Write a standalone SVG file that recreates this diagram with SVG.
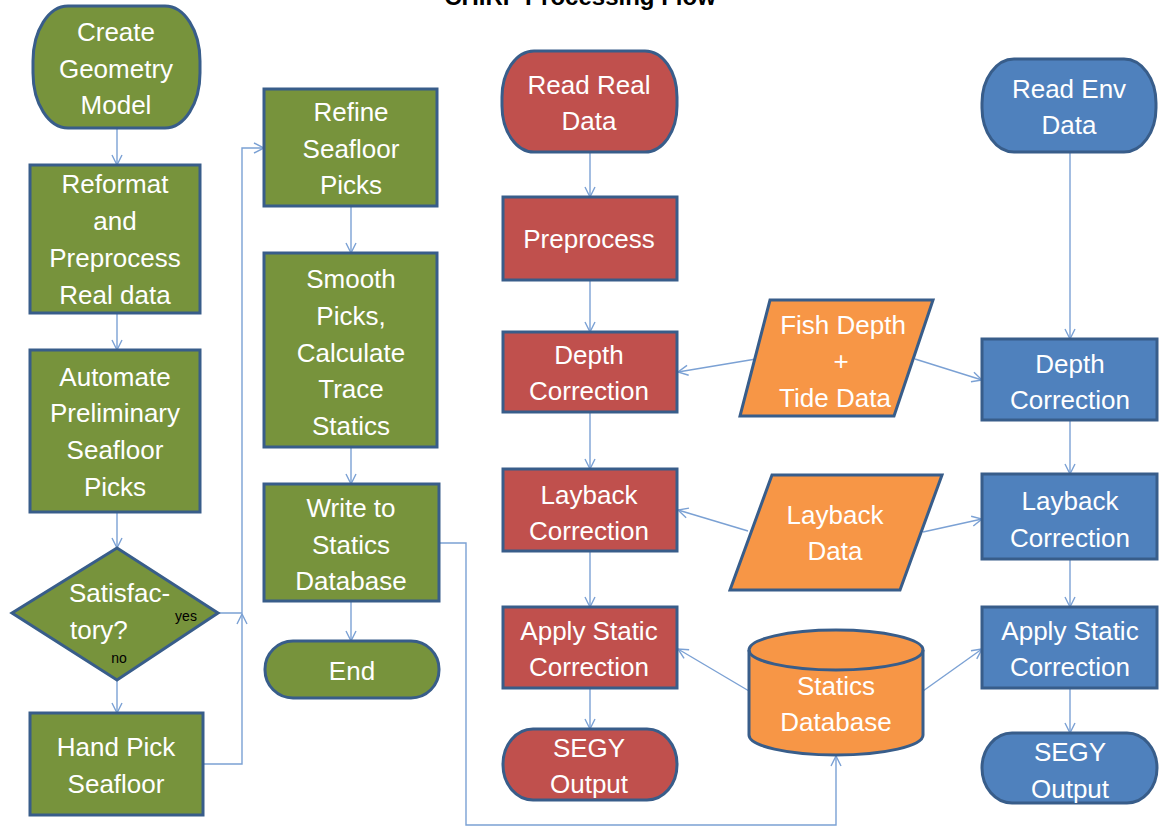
<svg xmlns="http://www.w3.org/2000/svg" width="1160" height="827" viewBox="0 0 1160 827">
<style>
.n{stroke:#385D8A;stroke-width:3}
.g{fill:#77933C}.r{fill:#C0504D}.b{fill:#4F81BD}.o{fill:#F79646}
.t{font-family:"Liberation Sans",Arial,sans-serif;font-size:26px;fill:#fff;text-anchor:middle}
.s{font-family:"Liberation Sans",Arial,sans-serif;font-size:14px;fill:#000;text-anchor:middle}
.c{fill:none;stroke:#7BA1D4;stroke-width:1.4}
</style>
<defs>
<marker id="a" viewBox="0 0 12 12" refX="11" refY="6" markerWidth="12" markerHeight="12" markerUnits="userSpaceOnUse" orient="auto">
<path d="M1,1 L11,6 L1,11" fill="none" stroke="#7BA1D4" stroke-width="1.4"/>
</marker>
</defs>
<rect width="1160" height="827" fill="#fff"/>
<text x="580" y="5" font-family="Liberation Sans,Arial,sans-serif" font-size="24" font-weight="bold" text-anchor="middle" fill="#000">CHIRP Processing Flow</text>

<g id="connectors">
<path class="c" d="M117,128 V165" marker-end="url(#a)"/>
<path class="c" d="M117,313 V350" marker-end="url(#a)"/>
<path class="c" d="M117,512 V548" marker-end="url(#a)"/>
<path class="c" d="M117,680 V713" marker-end="url(#a)"/>
<path class="c" d="M218,613 H242 V148 H264" marker-end="url(#a)"/>
<path class="c" d="M203,764 H242 V614" marker-end="url(#a)"/>
<path class="c" d="M351,206 V253" marker-end="url(#a)"/>
<path class="c" d="M351,447 V484" marker-end="url(#a)"/>
<path class="c" d="M351,601 V641" marker-end="url(#a)"/>
<path class="c" d="M439,543 H466 V825 H836 V756" marker-end="url(#a)"/>
<path class="c" d="M590,152 V197" marker-end="url(#a)"/>
<path class="c" d="M590,280 V332" marker-end="url(#a)"/>
<path class="c" d="M590,412 V469" marker-end="url(#a)"/>
<path class="c" d="M590,551 V607" marker-end="url(#a)"/>
<path class="c" d="M590,688 V729" marker-end="url(#a)"/>
<path class="c" d="M1070,152 V339" marker-end="url(#a)"/>
<path class="c" d="M1070,420 V474" marker-end="url(#a)"/>
<path class="c" d="M1070,559 V607" marker-end="url(#a)"/>
<path class="c" d="M1070,688 V733" marker-end="url(#a)"/>
<path class="c" d="M756,359 L678,372" marker-end="url(#a)"/>
<path class="c" d="M915,359 L982,380" marker-end="url(#a)"/>
<path class="c" d="M748,531 L678,510" marker-end="url(#a)"/>
<path class="c" d="M923,532 L982,519" marker-end="url(#a)"/>
<path class="c" d="M749,691 L678,649" marker-end="url(#a)"/>
<path class="c" d="M923,691 L982,649" marker-end="url(#a)"/>
</g>

<g id="create"><rect class="n g" x="33" y="6" width="167" height="122" rx="35" ry="55"/>
<text class="t" x="116" y="41">Create</text><text class="t" x="116" y="78">Geometry</text><text class="t" x="116" y="114">Model</text></g>
<g id="reformat"><rect class="n g" x="30" y="165" width="170" height="148"/>
<text class="t" x="115" y="193">Reformat</text><text class="t" x="115" y="230">and</text><text class="t" x="115" y="267">Preprocess</text><text class="t" x="115" y="304">Real data</text></g>
<g id="automate"><rect class="n g" x="30" y="350" width="170" height="162"/>
<text class="t" x="115" y="386">Automate</text><text class="t" x="115" y="422">Preliminary</text><text class="t" x="115" y="459">Seafloor</text><text class="t" x="115" y="496">Picks</text></g>
<g id="satisfactory"><polygon class="n g" points="117,548 218,613 117,680 12,613"/>
<text class="t" x="69" y="602" style="text-anchor:start">Satisfac-</text><text class="t" x="70" y="639" style="text-anchor:start">tory?</text>
<text class="s" x="186" y="621">yes</text><text class="s" x="119" y="663">no</text></g>
<g id="handpick"><rect class="n g" x="30" y="713" width="173" height="102"/>
<text class="t" x="116" y="756">Hand Pick</text><text class="t" x="116" y="793">Seafloor</text></g>

<g id="refine"><rect class="n g" x="264" y="89" width="173" height="117"/>
<text class="t" x="351" y="121">Refine</text><text class="t" x="351" y="158">Seafloor</text><text class="t" x="351" y="194">Picks</text></g>
<g id="smooth"><rect class="n g" x="264" y="253" width="173" height="194"/>
<text class="t" x="351" y="288">Smooth</text><text class="t" x="351" y="325">Picks,</text><text class="t" x="351" y="362">Calculate</text><text class="t" x="351" y="398">Trace</text><text class="t" x="351" y="435">Statics</text></g>
<g id="write"><rect class="n g" x="264" y="484" width="175" height="117"/>
<text class="t" x="351" y="517">Write to</text><text class="t" x="351" y="554">Statics</text><text class="t" x="351" y="590">Database</text></g>
<g id="end"><rect class="n g" x="265" y="641" width="174" height="57" rx="28" ry="28"/>
<text class="t" x="352" y="680">End</text></g>

<g id="readreal"><rect class="n r" x="502" y="51" width="175" height="101" rx="32" ry="46"/>
<text class="t" x="589" y="94">Read Real</text><text class="t" x="589" y="130">Data</text></g>
<g id="preprocess"><rect class="n r" x="503" y="197" width="174" height="83"/>
<text class="t" x="589" y="248">Preprocess</text></g>
<g id="depthR"><rect class="n r" x="503" y="332" width="174" height="80"/>
<text class="t" x="589" y="364">Depth</text><text class="t" x="589" y="400">Correction</text></g>
<g id="laybackR"><rect class="n r" x="503" y="469" width="174" height="82"/>
<text class="t" x="589" y="504">Layback</text><text class="t" x="589" y="540">Correction</text></g>
<g id="applyR"><rect class="n r" x="503" y="607" width="174" height="81"/>
<text class="t" x="589" y="640">Apply Static</text><text class="t" x="589" y="676">Correction</text></g>
<g id="segyR"><rect class="n r" x="503" y="729" width="174" height="71" rx="30" ry="35"/>
<text class="t" x="589" y="757">SEGY</text><text class="t" x="589" y="793">Output</text></g>

<g id="readenv"><rect class="n b" x="982" y="59" width="174" height="93" rx="32" ry="44"/>
<text class="t" x="1069" y="98">Read Env</text><text class="t" x="1069" y="134">Data</text></g>
<g id="depthB"><rect class="n b" x="982" y="339" width="175" height="81"/>
<text class="t" x="1070" y="373">Depth</text><text class="t" x="1070" y="409">Correction</text></g>
<g id="laybackB"><rect class="n b" x="982" y="474" width="175" height="85"/>
<text class="t" x="1070" y="510">Layback</text><text class="t" x="1070" y="547">Correction</text></g>
<g id="applyB"><rect class="n b" x="982" y="607" width="175" height="81"/>
<text class="t" x="1070" y="640">Apply Static</text><text class="t" x="1070" y="676">Correction</text></g>
<g id="segyB"><rect class="n b" x="982" y="733" width="175" height="70" rx="30" ry="35"/>
<text class="t" x="1070" y="761">SEGY</text><text class="t" x="1070" y="798">Output</text></g>

<g id="fishdepth"><polygon class="n o" points="770,300 933,300 894,416 740,416"/>
<text class="t" x="843" y="334">Fish Depth</text><text class="t" x="841" y="370">+</text><text class="t" x="835" y="407">Tide Data</text></g>
<g id="laybackdata"><polygon class="n o" points="772,475 942,475 900,590 730,590"/>
<text class="t" x="835" y="524">Layback</text><text class="t" x="835" y="560">Data</text></g>
<g id="staticsdb"><path class="n o" d="M749,650 V735 A87,20 0 0 0 923,735 V650 A87,20 0 0 0 749,650 Z"/>
<path d="M749,650 A87,20 0 0 0 923,650" fill="none" stroke="#385D8A" stroke-width="3"/>
<text class="t" x="836" y="695">Statics</text><text class="t" x="836" y="731">Database</text></g>
</svg>
